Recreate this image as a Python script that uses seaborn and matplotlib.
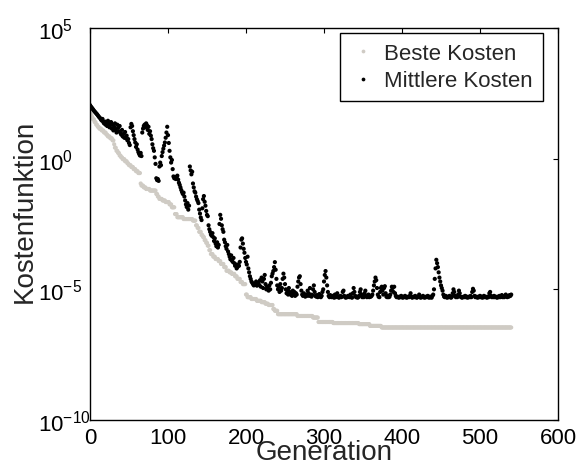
import numpy as np
import pandas as pd
import matplotlib
matplotlib.use("Agg")
import matplotlib.pyplot as plt
from matplotlib.ticker import NullLocator, FixedLocator
import seaborn as sns

# Best cost per generation (log10), stored as step levels and their run lengths
best_levels = [1.80, 1.72, 1.65, 1.58, 1.50, 1.40, 1.30,
               1.22, 1.15, 1.08, 1.00,
               0.92, 0.85, 0.78, 0.70,
               0.55, 0.42, 0.30, 0.22,
               0.12, 0.05, -0.02, -0.10,
               -0.18, -0.25, -0.32,
               -0.40, -0.48, -0.55,
               -0.95, -1.03, -1.10,
               -1.16, -1.22,
               -1.35, -1.45, -1.54,
               -1.60, -1.66,
               -1.75, -1.86,
               -2.12, -2.24, -2.31,
               -2.37,
               -2.55, -2.65, -2.80, -2.92,
               -3.00, -3.12, -3.22, -3.33,
               -3.50, -3.65, -3.75,
               -3.84, -3.92, -4.03,
               -4.15, -4.29,
               -4.35, -4.41,
               -4.50, -4.60,
               -4.72, -4.80,
               -5.20, -5.30,
               -5.37, -5.44, -5.49,
               -5.55, -5.60,
               -5.75, -5.82,
               -5.95, -6.02, -6.08,
               -6.25, -6.29,
               -6.33, -6.40, -6.46]
best_runs = [1, 1, 1, 1, 2, 2, 2,
             2, 3, 3, 3,
             2, 3, 3, 2,
             1, 2, 2, 2,
             2, 2, 3, 3,
             2, 3, 3,
             3, 3, 3,
             1, 3, 3,
             5, 8,
             2, 2, 4,
             4, 5,
             3, 4,
             3, 8, 12,
             4,
             2, 2, 3, 2,
             2, 2, 2, 2,
             2, 3, 3,
             4, 3, 4,
             3, 4,
             3, 4,
             3, 4,
             3, 4,
             2, 5,
             7, 6, 5,
             4, 6,
             2, 4,
             25, 20, 7,
             19, 33,
             14, 15, 167]

# Mean cost per generation (log10), generations 0..540
mean_log = [
    2.05, 2.00, 1.96, 1.92, 1.88, 1.84, 1.80, 1.77, 1.73, 1.70,
    1.66, 1.62, 1.58, 1.55, 1.50, 1.46, 1.52, 1.40, 1.35, 1.42,
    1.30, 1.38, 1.25, 1.45, 1.33, 1.20, 1.28, 1.40, 1.15, 1.30,
    1.08, 1.22, 1.35, 1.12, 1.00, 1.30, 1.18, 1.05, 1.25, 0.98,
    0.92, 1.10, 0.85, 0.95, 0.80, 1.02, 0.78, 0.88, 0.70, 0.75,
    0.60, 0.52, 1.20, 1.33, 1.25, 1.05, 0.90, 0.75, 0.62, 0.45,
    0.55, 0.35, 0.25, 0.18, 0.12, 0.22, 0.10, 1.00, 1.15, 1.25,
    1.30, 1.20, 1.35, 1.28, 1.10, 1.22, 0.95, 1.05, 0.88, 0.75,
    0.55, 0.40, 0.30, 0.05, -0.20, -0.75, -0.82, -0.78, -0.85, -0.30,
    -0.15, -0.25, 0.10, 0.25, 0.38, 0.50, 0.62, 0.80, 1.00, 1.22,
    0.90, 0.60, 0.30, 0.05, -0.15, -0.05, -0.40, -0.68, -0.75, -0.70,
    -0.78, -0.72, -0.65, -0.80, -0.92, -1.00, -1.10, -1.20, -1.28, -1.35,
    -1.30, -1.45, -1.60, -1.75, -1.85, -1.70, -1.95, -1.80, -0.30, -0.45,
    -0.60, -0.50, -0.95, -1.10, -1.25, -1.30, -1.45, -1.55, -1.62, -1.70,
    -1.95, -2.10, -2.25, -2.35, -1.90, -1.55, -1.43, -1.65, -1.80, -2.00,
    -2.15, -2.20, -2.55, -2.70, -2.80, -2.90, -2.95, -2.85, -3.00, -3.15,
    -3.05, -3.25, -3.35, -3.20, -3.40, -3.30, -2.50, -2.15, -2.30, -2.55,
    -2.70, -2.80, -3.10, -3.20, -3.35, -3.45, -3.30, -3.55, -3.65, -3.75,
    -3.85, -3.70, -3.90, -3.95, -3.80, -4.00, -4.10, -4.05, -4.20, -4.15,
    -4.05, -4.10, -3.95, -3.40, -3.10, -3.05, -3.25, -3.45, -3.60, -3.80,
    -3.95, -4.05, -3.75, -4.20, -4.35, -4.50, -4.60, -4.70, -4.75, -4.80,
    -4.85, -4.78, -4.82, -4.70, -4.86, -4.80, -4.75, -4.84, -4.65, -4.90,
    -4.55, -4.70, -4.95, -4.60, -4.45, -4.80, -5.00, -4.90, -4.95, -5.05,
    -4.85, -5.00, -4.75, -4.50, -4.40, -4.30, -4.15, -3.96, -4.25, -4.60,
    -4.85, -5.00, -4.90, -5.10, -4.80, -5.05, -4.95, -4.60, -4.40, -4.55,
    -4.80, -5.00, -5.15, -5.05, -5.20, -4.95, -5.10, -5.20, -5.15, -5.25,
    -5.05, -5.20, -5.10, -5.25, -5.15, -5.20, -4.90, -4.70, -4.55, -4.50,
    -4.80, -5.05, -5.20, -5.25, -5.15, -5.22, -5.28, -5.20, -5.25, -5.05,
    -5.15, -5.25, -4.95, -5.20, -5.28, -5.22, -5.00, -4.85, -5.10, -5.25,
    -5.28, -5.22, -5.30, -5.25, -5.18, -5.28, -5.30, -5.25, -5.10, -5.00,
    -4.70, -4.45, -4.30, -4.55, -4.85, -5.10, -5.25, -5.30, -5.22, -5.28,
    -5.30, -5.25, -5.28, -5.32, -5.20, -5.30, -5.25, -5.15, -5.28, -5.32,
    -5.30, -5.25, -5.30, -5.28, -5.10, -5.05, -5.25, -5.30, -5.32, -5.28,
    -5.30, -5.25, -5.28, -5.30, -5.20, -5.30, -5.32, -5.15, -4.95, -5.10,
    -5.25, -5.30, -5.28, -5.32, -5.30, -5.25, -5.10, -5.00, -5.20, -5.30,
    -5.25, -5.30, -5.15, -5.05, -5.25, -5.30, -5.28, -5.20, -5.30, -5.28,
    -5.28, -5.25, -5.20, -5.05, -4.85, -4.70, -4.55, -4.65, -4.95, -5.20,
    -5.28, -5.30, -5.10, -4.95, -4.90, -5.05, -5.20, -4.95, -4.88, -5.15,
    -5.28, -5.30, -5.25, -5.30, -5.28, -5.20, -5.05, -4.90, -4.95, -5.10,
    -4.90, -5.15, -5.25, -5.30, -5.28, -5.30, -5.32, -5.28, -5.30, -5.25,
    -5.30, -5.32, -5.28, -5.30, -5.25, -5.30, -5.32, -5.30, -5.28, -5.30,
    -5.25, -5.15, -5.28, -5.32, -5.30, -5.28, -5.30, -5.25, -5.30, -5.32,
    -5.30, -5.28, -5.20, -5.30, -5.32, -5.28, -5.30, -5.25, -5.30, -5.32,
    -5.30, -5.28, -5.30, -5.25, -5.30, -5.32, -5.28, -5.30, -5.32, -5.25,
    -5.20, -5.00, -4.60, -4.20, -3.87, -4.00, -4.15, -4.35, -4.55, -4.70,
    -4.85, -4.95, -5.05, -5.20, -5.28, -5.30, -5.25, -5.30, -5.32, -5.28,
    -5.30, -5.25, -5.30, -5.32, -5.28, -5.15, -5.00, -5.10, -5.25, -5.30,
    -5.28, -5.30, -5.20, -5.05, -5.15, -5.28, -5.30, -5.32, -5.30, -5.28,
    -5.30, -5.25, -5.30, -5.28, -5.32, -5.30, -5.28, -5.30, -5.25, -5.30,
    -5.10, -4.98, -5.05, -5.25, -5.30, -5.28, -5.30, -5.32, -5.28, -5.30,
    -5.25, -5.30, -5.28, -5.32, -5.30, -5.25, -5.30, -5.28, -5.30, -5.32,
    -5.28, -5.30, -5.15, -5.10, -5.25, -5.30, -5.28, -5.30, -5.25, -5.30,
    -5.28, -5.30, -5.32, -5.28, -5.30, -5.25, -5.30, -5.28, -5.22, -5.30,
    -5.28, -5.30, -5.25, -5.20, -5.28, -5.30, -5.25, -5.28, -5.22, -5.25,
    -5.20,
]

series_names = ["Beste Kosten", "Mittlere Kosten"]
series_colors = ["#cfcbc4", "#000000"]
x_ticks = [0, 100, 200, 300, 400, 500, 600]
y_ticks = [1e-10, 1e-5, 1e0, 1e5]

best_log = np.repeat(best_levels, best_runs)
generations = np.arange(len(mean_log))
assert len(best_log) == len(mean_log)

df = pd.concat([
    pd.DataFrame({"Generation": generations, "Kosten": 10.0 ** best_log,
                  "Serie": series_names[0]}),
    pd.DataFrame({"Generation": generations, "Kosten": 10.0 ** np.asarray(mean_log),
                  "Serie": series_names[1]}),
], ignore_index=True)

sns.set_style("white")
plt.rcParams["font.family"] = ["Liberation Sans", "DejaVu Sans"]
plt.rcParams["mathtext.fontset"] = "custom"
plt.rcParams["mathtext.rm"] = "Liberation Sans"
plt.rcParams["mathtext.it"] = "Liberation Sans:italic"

fig = plt.figure(figsize=(5.81, 4.64), dpi=100)
ax = fig.add_axes([90 / 581, 1 - 421 / 464, 468 / 581, 392 / 464])

sns.scatterplot(data=df, x="Generation", y="Kosten", hue="Serie",
                hue_order=series_names, palette=dict(zip(series_names, series_colors)),
                s=9, linewidth=0, ax=ax)

ax.set_yscale("log")
ax.set_xlim(0, 600)
ax.set_ylim(1e-10, 1e5)
ax.xaxis.set_major_locator(FixedLocator(x_ticks))
ax.yaxis.set_major_locator(FixedLocator(y_ticks))
ax.yaxis.set_minor_locator(NullLocator())
ax.xaxis.set_minor_locator(NullLocator())

for side in ["left", "right", "top", "bottom"]:
    ax.spines[side].set_visible(True)
    ax.spines[side].set_color("black")
    ax.spines[side].set_linewidth(1.0)

ax.tick_params(axis="both", which="major", direction="in", length=3.5, width=0.8,
               top=True, right=True, labelsize=16, colors="black")
ax.tick_params(axis="x", pad=5)
ax.tick_params(axis="y", pad=37.4)
plt.setp(ax.get_yticklabels(), ha="left")

ax.set_xlabel("Generation", fontsize=20)
ax.set_ylabel("Kostenfunktion", fontsize=20)
ax.xaxis.set_label_coords(0.5, -0.049)
ax.yaxis.set_label_coords(-0.111, 0.535)

handles, labels = ax.get_legend_handles_labels()
leg = ax.legend(handles, labels, loc="upper right", bbox_to_anchor=(0.968, 0.987),
                borderaxespad=0, fontsize=16, frameon=True, fancybox=False,
                framealpha=1, edgecolor="black", handlelength=1.17,
                handletextpad=0.36, borderpad=0.45, labelspacing=0.28,
                markerscale=0.9)
leg.get_frame().set_linewidth(1.0)

fig.savefig("out.png", dpi=100)
